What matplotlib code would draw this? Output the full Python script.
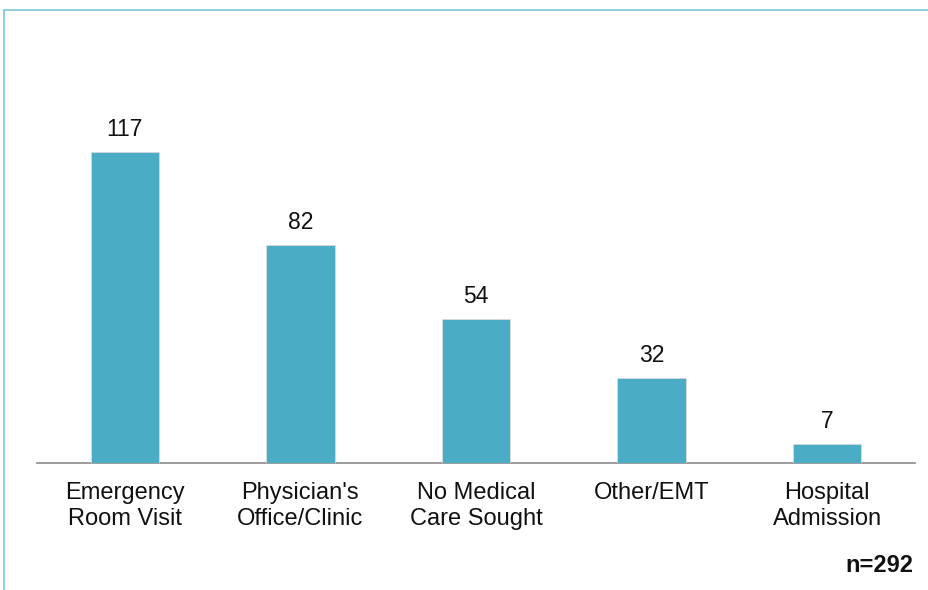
#!/usr/bin/env python3
"""
Bar chart: type of medical care sought
"""
import matplotlib
matplotlib.use("Agg")
from matplotlib import pyplot as plt
from matplotlib.lines import Line2D

categories = ["Emergency\nRoom Visit", "Physician's\nOffice/Clinic",
              "No Medical\nCare Sought", "Other/EMT", "Hospital\nAdmission"]
counts = [117, 82, 54, 32, 7]
sample_note = "n=292"

bar_color = "#4bacc6"
frame_color = "#7fc7d4"

plt.rcParams['font.family'] = ['Liberation Sans', 'DejaVu Sans']

fig = plt.figure(figsize=(9.29, 5.90), dpi=100)
ax = fig.add_axes([37 / 929, 127 / 590, 878 / 929, 453 / 590])

xs = range(len(categories))
bars = ax.bar(xs, counts, width=0.39, color=bar_color, zorder=3,
              edgecolor="#d9d9d9", linewidth=0.6)

for x, v in zip(xs, counts):
    ax.annotate(str(v), (x, v), xytext=(0, 8), textcoords="offset points",
                ha="center", va="bottom", fontsize=16.5, color="#111111")

ax.set_xlim(-0.5, len(categories) - 0.5)
ax.set_ylim(0, 170.4)
ax.set_xticks(list(xs))
ax.set_xticklabels(categories, fontsize=17, linespacing=1.2, color="#111111")
ax.tick_params(axis="x", length=0, pad=14)
ax.set_yticks([])
for side in ("top", "left", "right"):
    ax.spines[side].set_visible(False)
ax.spines["bottom"].set_color("#8c8c8c")
ax.spines["bottom"].set_linewidth(1.2)

# light frame around the figure area
fig.add_artist(Line2D([4.5 / 929, 1.0], [1 - 10 / 590, 1 - 10 / 590],
                      transform=fig.transFigure, color=frame_color, lw=1.2))
fig.add_artist(Line2D([4.5 / 929, 4.5 / 929], [0.0, 1 - 10 / 590],
                      transform=fig.transFigure, color=frame_color, lw=1.2))

fig.text(913 / 929, 1 - 565 / 590, sample_note, ha="right", va="center",
         fontsize=17, fontweight="bold", color="#111111")

fig.savefig("out.png", dpi=100)
